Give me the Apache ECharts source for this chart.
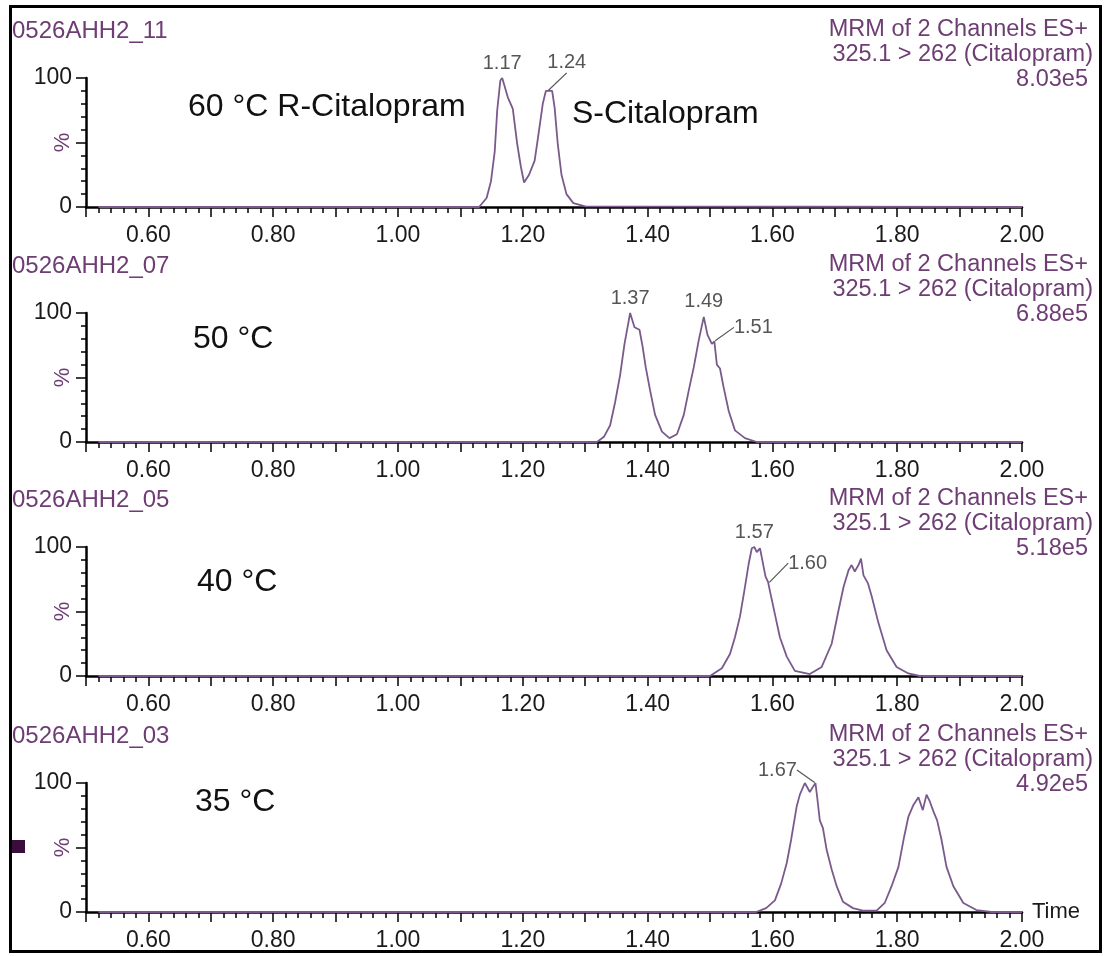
<!DOCTYPE html>
<html>
<head>
<meta charset="utf-8">
<title>Citalopram MRM chromatograms</title>
<script src="https://cdn.jsdelivr.net/npm/echarts@6/dist/echarts.min.js"></script>
<style>
html, body { margin: 0; padding: 0; background: #fff; }
#main { width: 1105px; height: 956px; }
</style>
</head>
<body>
<div id="main"></div>
<script>
// retention time (min) and relative intensity (%)
var t60 = [0.52, 1.13, 1.142, 1.149, 1.155, 1.159, 1.164, 1.167, 1.176, 1.184, 1.191, 1.197, 1.202, 1.21, 1.219, 1.225, 1.232, 1.237, 1.247, 1.251, 1.256, 1.262, 1.27, 1.281, 1.30, 2.00];
var i60 = [0, 0, 7, 20, 43, 75, 98, 100, 85, 76, 49, 31, 19, 25, 36, 56, 80, 90, 90, 77, 49, 25, 10, 3, 0.5, 0];

var t50 = [0.52, 1.319, 1.33, 1.34, 1.348, 1.356, 1.363, 1.369, 1.372, 1.379, 1.387, 1.392, 1.397, 1.404, 1.412, 1.423, 1.435, 1.447, 1.458, 1.466, 1.474, 1.482, 1.49, 1.496, 1.503, 1.507, 1.511, 1.516, 1.522, 1.53, 1.54, 1.556, 1.575, 2.0];
var i50 = [0, 0, 4, 13, 31, 52, 76, 92, 100, 89, 87, 74, 58, 40, 21, 8, 3, 6, 21, 40, 58, 79, 97, 83, 76, 78, 60, 57, 42, 24, 9, 3, 0, 0];

var t40 = [0.52, 1.50, 1.519, 1.532, 1.54, 1.548, 1.555, 1.562, 1.567, 1.571, 1.575, 1.58, 1.583, 1.589, 1.593, 1.596, 1.604, 1.612, 1.623, 1.636, 1.66, 1.679, 1.695, 1.706, 1.714, 1.722, 1.727, 1.732, 1.738, 1.742, 1.746, 1.753, 1.759, 1.77, 1.783, 1.799, 1.818, 1.836, 2.0];
var i40 = [0, 0, 6, 17, 30, 46, 66, 87, 99, 100, 96, 99, 92, 77, 73, 66, 48, 30, 15, 4, 1.5, 7, 25, 51, 69, 82, 86, 81, 86, 91, 78, 72, 62, 41, 20, 7, 2, 0, 0];

var t35 = [0.52, 1.574, 1.59, 1.604, 1.614, 1.623, 1.63, 1.639, 1.644, 1.652, 1.66, 1.665, 1.669, 1.672, 1.676, 1.681, 1.687, 1.695, 1.703, 1.713, 1.729, 1.745, 1.767, 1.78, 1.791, 1.802, 1.811, 1.818, 1.826, 1.834, 1.841, 1.847, 1.852, 1.858, 1.864, 1.871, 1.879, 1.89, 1.906, 1.927, 1.951, 2.0];
var i35 = [0, 0, 3, 9, 22, 38, 56, 82, 91, 100, 93, 97, 100, 88, 71, 65, 48, 33, 20, 8, 3, 1, 1, 7, 20, 35, 58, 74, 83, 89, 79, 91, 86, 78, 71, 56, 35, 20, 7, 1.5, 0, 0];

// labelled peaks: [time, %, label]
var peaks60 = [[1.167, 100, '1.17'], [1.24, 90, '1.24']];
var peaks50 = [[1.372, 100, '1.37'], [1.49, 97, '1.49'], [1.507, 78, '1.51']];
var peaks40 = [[1.571, 100, '1.57'], [1.594, 72, '1.60']];
var peaks35 = [[1.669, 100, '1.67']];

var sampleNames = ['0526AHH2_11', '0526AHH2_07', '0526AHH2_05', '0526AHH2_03'];
var maxCounts = ['8.03e5', '6.88e5', '5.18e5', '4.92e5'];
var tempNames = ['60 °C', '50 °C', '40 °C', '35 °C'];
var channelLines = ['MRM of 2 Channels ES+', '325.1 > 262 (Citalopram)'];

// layout / style
var traces = [[t60, i60], [t50, i50], [t40, i40], [t35, i35]];
var peakSets = [peaks60, peaks50, peaks40, peaks35];
var peakShift = [[[0, 0], [19, -13]], [[0, 0], [0, 0], [39, 1]], [[0, 0], [39, -5]], [[-38, 2]]];
var panelTop = [78, 313, 547, 783];
var panelH = 129;
var plotLeft = 86, plotRight = 1022;
var tempPos = [[188, 29], [193, 26], [197, 35], [195, 19]];
var FONT = '"Liberation Sans", Arial, sans-serif';
var PURPLE = '#6e3d74';
var TRACE = '#7a5a8c';

var dom = document.getElementById('main');
var myChart = echarts.init(dom);

var grids = [], xAxes = [], yAxes = [], series = [], graphics = [];

for (var p = 0; p < 4; p++) {
    grids.push({left: plotLeft, width: plotRight - plotLeft, top: panelTop[p], height: panelH});

    xAxes.push({
        gridIndex: p, type: 'value', min: 0.5, max: 2.0, interval: 0.1,
        axisLine: {onZero: false, lineStyle: {color: '#000', width: 2.5}},
        axisTick: {length: 10, lineStyle: {color: '#000', width: 1.5}},
        minorTick: {show: true, splitNumber: 5, length: 6, lineStyle: {color: '#000', width: 1.5}},
        splitLine: {show: false},
        axisLabel: {
            margin: 17, fontSize: 23, color: '#1a1a1a', fontFamily: FONT,
            formatter: function (v) { return Math.round(v * 10) % 2 === 0 ? v.toFixed(2) : ''; }
        },
        name: p === 3 ? 'Time' : '', nameLocation: 'end', nameGap: 10, nameMoveOverlap: false,
        nameTextStyle: {fontSize: 22, color: '#1a1a1a', fontFamily: FONT}
    });

    yAxes.push({
        gridIndex: p, type: 'value', min: 0, max: 100, interval: 50,
        axisLine: {show: true, lineStyle: {color: '#000', width: 2.5}},
        axisTick: {show: true, length: 10, lineStyle: {color: '#000', width: 1.5}},
        minorTick: {show: true, splitNumber: 5, length: 5, lineStyle: {color: '#000', width: 1.5}},
        splitLine: {show: false},
        axisLabel: {
            margin: 14, fontSize: 23, color: '#1a1a1a', fontFamily: FONT,
            formatter: function (v) { return v === 50 ? '' : String(v); }
        },
        name: '%', nameLocation: 'middle', nameGap: 12, nameRotate: 90, nameMoveOverlap: false,
        nameTextStyle: {fontSize: 22, color: PURPLE, fontFamily: FONT}
    });

    var pts = traces[p][0].map(function (t, k) { return [t, traces[p][1][k]]; });
    series.push({
        type: 'line', xAxisIndex: p, yAxisIndex: p, data: pts,
        showSymbol: false, symbol: 'none', clip: false, silent: true,
        lineStyle: {color: TRACE, width: 1.8}, z: 3
    });

    var shifts = peakShift[p];
    series.push({
        type: 'scatter', xAxisIndex: p, yAxisIndex: p, silent: true, z: 4,
        symbolSize: 2, itemStyle: {color: 'rgba(0,0,0,0)'},
        data: peakSets[p].map(function (pk, k) {
            return {
                value: [pk[0], pk[1]],
                labelLine: {show: shifts[k][0] !== 0, lineStyle: {color: '#555', width: 1.2}}
            };
        }),
        label: {
            show: true, position: 'top', distance: 4,
            fontSize: 20, color: '#2a2a2a', fontFamily: FONT,
            formatter: (function (set) { return function (q) { return set[q.dataIndex][2]; }; })(peakSets[p])
        },
        labelLayout: (function (sh) {
            return function (q) { return {dx: sh[q.dataIndex][0], dy: sh[q.dataIndex][1]}; };
        })(shifts)
    });

    var yTop = panelTop[p];
    graphics.push({type: 'text', x: 12, y: yTop - 47, style: {
        text: sampleNames[p], fill: PURPLE, fontSize: 24, fontFamily: FONT,
        align: 'left', verticalAlign: 'middle'}});
    graphics.push({type: 'text', x: 1088, y: yTop - 48, style: {
        text: channelLines[0], fill: PURPLE, fontSize: 23.5, fontFamily: FONT,
        align: 'right', verticalAlign: 'middle'}});
    graphics.push({type: 'text', x: 1093, y: yTop - 23, style: {
        text: channelLines[1], fill: PURPLE, fontSize: 23.5, fontFamily: FONT,
        align: 'right', verticalAlign: 'middle'}});
    graphics.push({type: 'text', x: 1088, y: yTop + 2, style: {
        text: maxCounts[p], fill: PURPLE, fontSize: 23.5, fontFamily: FONT,
        align: 'right', verticalAlign: 'middle'}});
    graphics.push({type: 'text', x: tempPos[p][0], y: yTop + tempPos[p][1], style: {
        text: p === 0 ? tempNames[p] + ' R-Citalopram' : tempNames[p],
        fill: '#111', fontSize: 32, fontFamily: FONT,
        align: 'left', verticalAlign: 'middle'}});
}

graphics.push({type: 'text', x: 572, y: panelTop[0] + 36, style: {
    text: 'S-Citalopram', fill: '#111', fontSize: 32, fontFamily: FONT,
    align: 'left', verticalAlign: 'middle'}});

// frame and the little marker on the left edge
graphics.push({type: 'rect', shape: {x: 10.5, y: 6.5, width: 1090, height: 945},
    style: {fill: 'none', stroke: '#000', lineWidth: 3}});
graphics.push({type: 'rect', shape: {x: 12, y: 840, width: 13, height: 13},
    style: {fill: '#3a0d3d'}});

option = {
    backgroundColor: '#fff',
    animation: false,
    grid: grids,
    xAxis: xAxes,
    yAxis: yAxes,
    series: series,
    graphic: {elements: graphics}
};

if (option && typeof option === "object") {
    myChart.setOption(option, true);
}
</script>
</body>
</html>
